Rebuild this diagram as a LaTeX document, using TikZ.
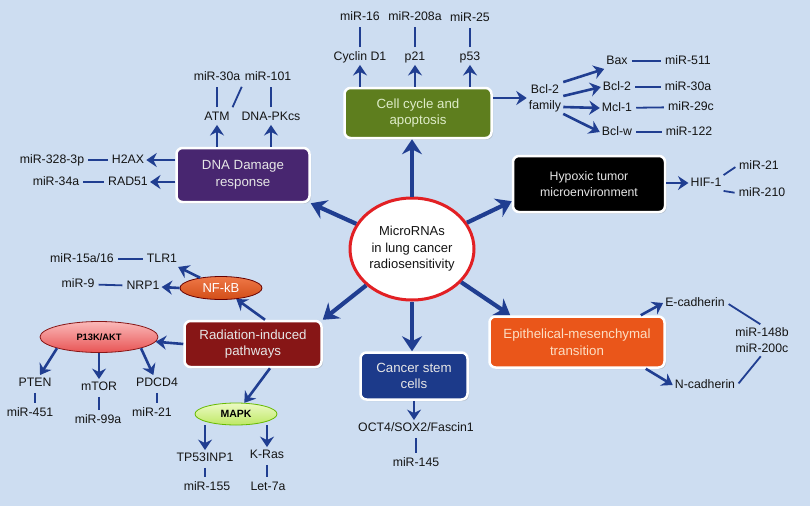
\documentclass[tikz,border=0pt]{standalone}
\usepackage{fontspec}
\setmainfont{Liberation Sans}
\usepackage{tikz}
\usetikzlibrary{positioning,arrows.meta,shapes.geometric,shadows}
\definecolor{colorbg}      {RGB}{205,221,241}
\definecolor{colorarrow}   {RGB}{32 ,62 ,145}
\definecolor{colortext}    {RGB}{20 ,20 ,20 }
\definecolor{colorboxtext} {RGB}{230,230,230}
\definecolor{colorcelltext}{RGB}{222,236,200}
\definecolor{coloremttext} {RGB}{252,222,195}
\definecolor{colorcell}    {RGB}{94 ,126,30 }
\definecolor{colordna}     {RGB}{72 ,38 ,112}
\definecolor{colorrad}     {RGB}{135,22 ,22 }
\definecolor{colorstem}    {RGB}{28 ,58 ,138}
\definecolor{coloremt}     {RGB}{234,86 ,26 }
\definecolor{colorring}    {RGB}{226,32 ,36 }
\definecolor{colorpiktop}  {RGB}{250,185,185}
\definecolor{colorpikbot}  {RGB}{232,84 ,84 }
\definecolor{colormapktop} {RGB}{236,250,196}
\definecolor{colormapkbot} {RGB}{190,232,100}

\begin{document}
\begin{tikzpicture}[
    x=1pt, y=-1pt,
    lbl/.style={text=colortext,font={\fontsize{12.3}{14}\selectfont},inner sep=2pt,text height=9pt,text depth=2.5pt},
    lbltwo/.style={text=colortext,font={\fontsize{12.3}{16}\selectfont},inner sep=2pt,align=center},
    box/.style={rectangle,rounded corners=6pt,draw=white,line width=2.5pt,text=colorboxtext,align=center,
        font={\fontsize{13.3}{16.5}\selectfont},drop shadow={opacity=0.3,shadow xshift=1.5pt,shadow yshift=-1.5pt}},
    hub/.style={ellipse,draw=colorring,line width=3pt,fill=white,text=colortext,align=center,inner sep=0pt,
        minimum width=124pt,minimum height=102pt,font={\fontsize{13}{16.5}\selectfont}},
    oval/.style={ellipse,line width=0.8pt,inner sep=0pt},
    mainarr/.style={-{Stealth[length=15pt,width=20pt,inset=5pt]},line width=4.2pt,draw=colorarrow},
    subarr/.style={-{Stealth[length=10.5pt,width=14pt,inset=3.5pt]},line width=2.6pt,draw=colorarrow},
    link/.style={line width=1.8pt,draw=colorarrow,shorten >=2pt,shorten <=2pt},
]

    \useasboundingbox (0,0) rectangle (810,506);
    \fill[colorbg] (0,0) rectangle (810,506);

    % Hub
    \node[hub] (hub) at (412,249) {MicroRNAs\\in lung cancer\\radiosensitivity};

    % Cell cycle
    \node[box,fill=colorcell,text=colorcelltext,minimum width=147pt,minimum height=50pt] (cell) at (418,113) {Cell cycle and\\apoptosis};
    \node[lbl] (cyclin)  at (360,57) {Cyclin D1};
    \node[lbl] (ptwoone) at (415,57) {p21};
    \node[lbl] (pfive)   at (470,57) {p53};
    \node[lbl] (mirsixteen) at (360,17) {miR-16};
    \node[lbl] (mirtwoeight) at (415,17) {miR-208a};
    \node[lbl] (mirtwofive) at (470,18) {miR-25};
    \draw[subarr] (cyclin |- cell.north) -- (cyclin);
    \draw[subarr] (ptwoone |- cell.north) -- (ptwoone);
    \draw[subarr] (pfive |- cell.north) -- (pfive);
    \draw[link] (cyclin) -- (mirsixteen);
    \draw[link] (ptwoone) -- (mirtwoeight);
    \draw[link] (pfive) -- (mirtwofive);

    % Bcl-2 family
    \node[lbltwo] (bclfam) at (545,98) {Bcl-2\\family};
    \node[lbl] (bax)    at (617,61)  {Bax};
    \node[lbl] (bcltwo) at (617,87)  {Bcl-2};
    \node[lbl] (mcl)    at (617,108) {Mcl-1};
    \node[lbl] (bclw)   at (617,132) {Bcl-w};
    \node[lbl] (mirfiveone)  at (688,61)  {miR-511};
    \node[lbl] (mirthirtya)  at (688,87)  {miR-30a};
    \node[lbl] (mirtwonine)  at (691,107) {miR-29c};
    \node[lbl] (mironetwo)   at (689,132) {miR-122};
    \draw[subarr] (cell.east |- bclfam) -- (bclfam);
    \draw[subarr] (bclfam.north east) -- (bax.south west);
    \draw[subarr] ([yshift=2pt]bclfam.east) -- (bcltwo.west);
    \draw[subarr] ([yshift=-9pt]bclfam.east) -- (mcl.west);
    \draw[subarr] (bclfam.south east) -- (bclw.west);
    \draw[link] (bax) -- (mirfiveone);
    \draw[link] (bcltwo) -- (mirthirtya);
    \draw[link] (mcl) -- (mirtwonine);
    \draw[link] (bclw) -- (mironetwo);

    % Hypoxia
    \node[box,fill=black,minimum width=152pt,minimum height=56pt,font={\fontsize{12.3}{16}\selectfont}] (hypoxic) at (589,184) {Hypoxic tumor\\microenvironment};
    \node[lbl] (hif) at (706,183) {HIF-1};
    \node[lbl] (mirtwoone)   at (759,166) {miR-21};
    \node[lbl] (mirtwoonezero) at (762,193) {miR-210};
    \draw[subarr] (hypoxic.east |- hif) -- (hif);
    \draw[link,shorten <=0pt] (hif.north east) -- (mirtwoone.west);
    \draw[link,shorten <=0pt] (hif.south east) -- (mirtwoonezero.west);

    % DNA damage
    \node[box,fill=colordna,minimum width=133pt,minimum height=54pt] (dna) at (243,175) {DNA Damage\\response};
    \node[lbl] (atm)   at (217,117) {ATM};
    \node[lbl] (dnapk) at (271,117) {DNA-PKcs};
    \node[lbl] (mirthirtyb) at (217,77) {miR-30a};
    \node[lbl] (mironezeroone) at (268,77) {miR-101};
    \node[lbl] (htwoax) at (128,160) {H2AX};
    \node[lbl] (radfive) at (128,182) {RAD51};
    \node[lbl] (mirthreetwo) at (52,160) {miR-328-3p};
    \node[lbl] (mirthreefour) at (56,182) {miR-34a};
    \draw[subarr] (atm |- dna.north) -- (atm);
    \draw[subarr] (dnapk |- dna.north) -- (dnapk);
    \draw[subarr] (dna.west |- htwoax) -- (htwoax);
    \draw[subarr] (dna.west |- radfive) -- (radfive);
    \draw[link] (atm) -- (mirthirtyb);
    \draw[link] (dnapk) -- (dnapk |- mironezeroone.south);
    \draw[link] (mironezeroone.south west) -- (atm.north east);
    \draw[link] (htwoax) -- (mirthreetwo);
    \draw[link] (radfive) -- (mirthreefour);

    % Radiation-induced pathways
    \node[box,fill=colorrad,minimum width=137pt,minimum height=46pt] (rad) at (253,344) {Radiation-induced\\pathways};
    \node[oval,draw=black!60!red,top color=coloremt!80!white,bottom color=coloremt!90!black,text=white,
        minimum width=82pt,minimum height=23pt,font={\fontsize{13}{15}\selectfont}] (nfkb) at (221,288) {NF-kB};
    \node[lbl] (tlr) at (162,259) {TLR1};
    \node[lbl] (nrp) at (143,286) {NRP1};
    \node[lbl] (mirfifteen) at (82,259) {miR-15a/16};
    \node[lbl] (mirnine) at (78,284) {miR-9};
    \draw[subarr] ([xshift=12pt]rad.north) -- (nfkb);
    \draw[subarr] (nfkb) -- (tlr);
    \draw[subarr] (nfkb.west) -- (nrp);
    \draw[link] (tlr) -- (mirfifteen);
    \draw[link] (nrp) -- (mirnine);

    \node[oval,draw=colorrad,top color=colorpiktop,bottom color=colorpikbot,text=black,
        minimum width=118pt,minimum height=31pt,font={\fontsize{9.3}{11}\selectfont\bfseries}] (pik) at (99,337) {P13K/AKT};
    \node[lbl] (pten)  at (35,383)  {PTEN};
    \node[lbl] (mtor)  at (99,387)  {mTOR};
    \node[lbl] (pdcd)  at (157,383) {PDCD4};
    \node[lbl] (mirfourfive) at (30,413) {miR-451};
    \node[lbl] (mirninenine) at (98,420) {miR-99a};
    \node[lbl] (mirtwooneb)  at (152,413) {miR-21};
    \draw[subarr] (rad.west) -- (pik);
    \draw[subarr] (pik.south west) -- (pten);
    \draw[subarr] (pik.south) -- (pik.south |- mtor.north);
    \draw[subarr] (pik.south east) -- (pdcd);
    \draw[link] (pten) -- (pten |- mirfourfive.north);
    \draw[link] (mtor) -- (mtor |- mirninenine.north);
    \draw[link] (pdcd) -- (pdcd |- mirtwooneb.north);

    \node[oval,draw=black!45!green!60!yellow,top color=colormapktop,bottom color=colormapkbot,text=black,
        minimum width=82pt,minimum height=22pt,font={\fontsize{10.5}{12}\selectfont\bfseries}] (mapk) at (236,414) {MAPK};
    \node[lbl] (tpfive) at (205,458) {TP53INP1};
    \node[lbl] (kras)   at (267,455) {K-Ras};
    \node[lbl] (mironefivefive) at (207,487) {miR-155};
    \node[lbl] (letseven) at (268,487) {Let-7a};
    \draw[subarr] ([xshift=17pt]rad.south) -- (mapk);
    \draw[subarr] (tpfive |- mapk.south) -- (tpfive);
    \draw[subarr] (kras |- mapk.south) -- (kras);
    \draw[link] (tpfive) -- (tpfive |- mironefivefive.north);
    \draw[link] (kras) -- (kras |- letseven.north);

    % Cancer stem cells
    \node[box,fill=colorstem,minimum width=107pt,minimum height=47pt] (stem) at (414,376) {Cancer stem\\cells};
    \node[lbl] (oct) at (416,428) {OCT4/SOX2/Fascin1};
    \node[lbl] (mironefourfive) at (416,463) {miR-145};
    \draw[subarr] (stem.south) -- (stem.south |- oct.north);
    \draw[link] (oct) -- (oct |- mironefourfive.north);

    % EMT
    \node[box,fill=coloremt,text=coloremttext,minimum width=175pt,minimum height=51pt] (emt) at (577,342) {Epithelical-mesenchymal\\transition};
    \node[lbl] (ecad) at (695,303) {E-cadherin};
    \node[lbl] (ncad) at (705,385) {N-cadherin};
    \node[lbltwo] (mirch) at (762,340) {miR-148b\\miR-200c};
    \draw[subarr] ([xshift=-25pt]emt.north east) -- (ecad.west);
    \draw[subarr] ([xshift=-20pt]emt.south east) -- (ncad.west);
    \draw[link] (ecad.east) -- (mirch.north);
    \draw[link] (ncad.east) -- (mirch.south);

    % Hub arrows
    \draw[mainarr] (hub.north) -- (hub.north |- cell.south);
    \draw[mainarr] (hub.south) -- (hub.south |- stem.north);
    \draw[mainarr] (hub) -- (dna.south east);
    \draw[mainarr] (hub) -- (rad.north east);
    \draw[mainarr] (hub) -- ([yshift=12pt]hypoxic.south west);
    \draw[mainarr] (hub) -- ([xshift=22pt]emt.north west);

\end{tikzpicture}
\end{document}
